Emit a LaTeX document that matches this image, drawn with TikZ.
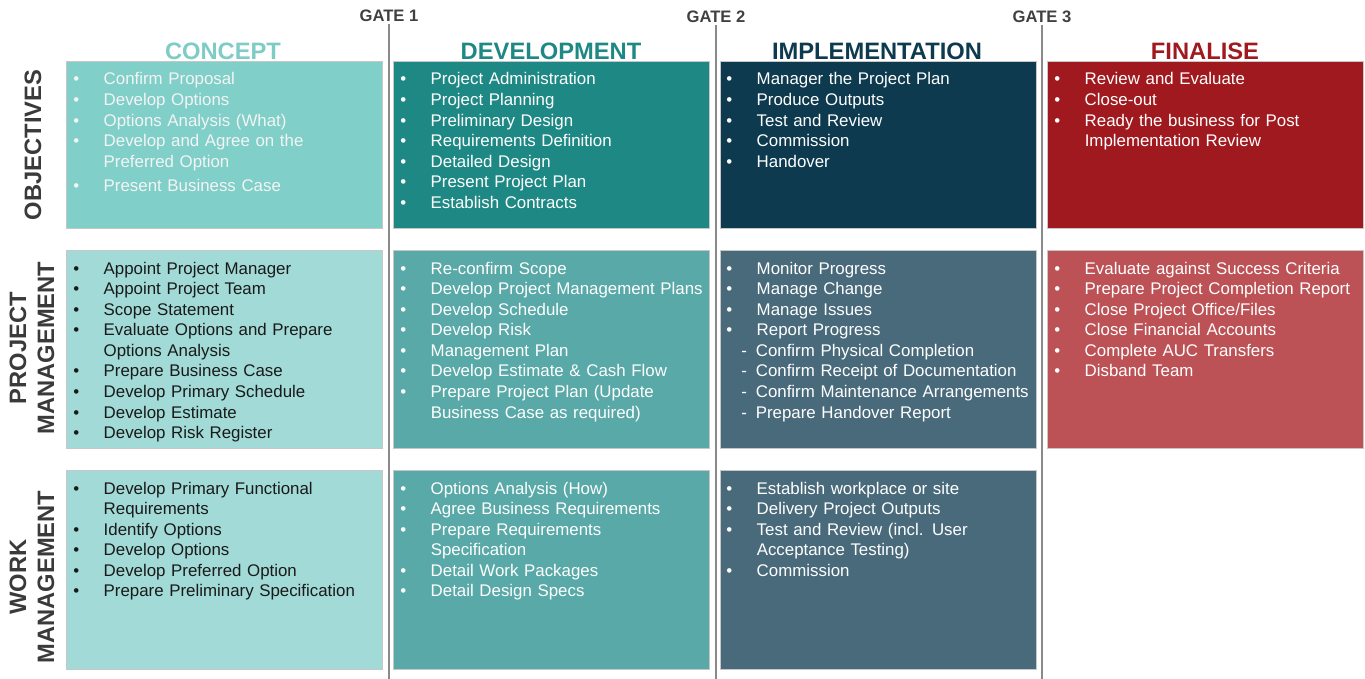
\documentclass[tikz,border=0pt]{standalone}
\usepackage{fontspec}
\setmainfont{Liberation Sans}
\usetikzlibrary{positioning}

\definecolor{conhead}{HTML}{7FCCC6}
\definecolor{conobj}{HTML}{80CFC9}
\definecolor{conrow}{HTML}{A1DAD6}
\definecolor{devobj}{HTML}{1E8984}
\definecolor{devrow}{HTML}{58A9A7}
\definecolor{impobj}{HTML}{0D3A4E}
\definecolor{improw}{HTML}{496A7B}
\definecolor{finobj}{HTML}{A0191F}
\definecolor{finrow}{HTML}{BD5256}
\definecolor{gategray}{HTML}{8A8A8A}
\definecolor{gatetext}{HTML}{404040}
\definecolor{labtext}{HTML}{3A3A3A}
\definecolor{lighttext}{HTML}{F4F4F4}
\definecolor{darktext}{HTML}{1A1A1A}

\tikzset{
  stagebox/.style={rectangle, draw=black!22, line width=0.4pt, inner sep=0pt, anchor=north west, minimum width=6.32cm},
  objrow/.style={stagebox, minimum height=3.34cm},
  pmrow/.style={stagebox, minimum height=3.96cm},
  wmrow/.style={stagebox, minimum height=3.98cm},
  itemlist/.style={anchor=base west, inner sep=0pt, text width=6.3cm, align=left, font=\fontsize{9.6}{11.72}\selectfont},
  stagehead/.style={font=\fontsize{13.5}{16}\selectfont\bfseries},
  gatelabel/.style={font=\fontsize{9.45}{11}\selectfont\bfseries, text=gatetext, inner sep=1pt},
  gateline/.style={draw=gategray, line width=1.1pt},
  rowlabel/.style={font=\fontsize{13.5}{16}\selectfont\bfseries, text=labtext, rotate=90, align=center}
}

\def\bul{\makebox[17.3pt][l]{\textbullet}}
\def\cont{\hspace*{17.3pt}}
\def\subd{\makebox[16.8pt][l]{\hspace{8.5pt}-}}

\begin{document}
\begin{tikzpicture}[x=0.02cm, y=-0.02cm]
  %%%%% START %%%%%
  \useasboundingbox (0,0) rectangle (1365,679);

  % gates
  \node[gatelabel] (g1) at (389,16) {GATE 1};
  \node[gatelabel] (g2) at (716,17) {GATE 2};
  \node[gatelabel] (g3) at (1042,17) {GATE 3};
  \coordinate (g1end) at (389,679);
  \coordinate (g2end) at (716,679);
  \coordinate (g3end) at (1042,679);
  \draw[gateline] (g1.south) -- (g1end);
  \draw[gateline] (g2.south) -- (g2end);
  \draw[gateline] (g3.south) -- (g3end);

  % stage headings
  \node[stagehead, text=conhead] (hCon) at (223,51) {CONCEPT};
  \node[stagehead, text=devobj] (hDev) at (551,51) {DEVELOPMENT};
  \node[stagehead, text=impobj] (hImp) at (877,51) {IMPLEMENTATION};
  \node[stagehead, text=finobj] (hFin) at (1205,51) {FINALISE};

  % row labels
  \node[rowlabel] (lObj) at (33,145) {OBJECTIVES};
  \node[rowlabel] (lPM) at (32,348) {PROJECT\\MANAGEMENT};
  \node[rowlabel] (lWM) at (32,577) {WORK\\MANAGEMENT};

  % objectives
  \node[objrow, fill=conobj] (objCon) at (66,61) {};
  \node[objrow, fill=devobj] (objDev) at (393,61) {};
  \node[objrow, fill=impobj] (objImp) at (720,61) {};
  \node[objrow, fill=finobj] (objFin) at (1047,61) {};

  \node[itemlist, text=lighttext] (objConTxt) at ([shift={(7,24)}]objCon.north west)
    {\bul Confirm Proposal\\ \bul Develop Options\\ \bul Options Analysis (What)\\
     \bul Develop and Agree on the\\ \cont Preferred Option\\[2pt] \bul Present Business Case};
  \node[itemlist, text=white] (objDevTxt) at ([shift={(7,24)}]objDev.north west)
    {\bul Project Administration\\ \bul Project Planning\\ \bul Preliminary Design\\
     \bul Requirements Definition\\ \bul Detailed Design\\ \bul Present Project Plan\\
     \bul Establish Contracts};
  \node[itemlist, text=white] (objImpTxt) at ([shift={(6,24)}]objImp.north west)
    {\bul Manager the Project Plan\\ \bul Produce Outputs\\ \bul Test and Review\\
     \bul Commission\\ \bul Handover};
  \node[itemlist, text=white] (objFinTxt) at ([shift={(7,24)}]objFin.north west)
    {\bul Review and Evaluate\\ \bul Close-out\\ \bul Ready the business for Post\\
     \cont Implementation Review};

  % project management
  \node[pmrow, fill=conrow] (pmCon) at (66,250) {};
  \node[pmrow, fill=devrow] (pmDev) at (393,250) {};
  \node[pmrow, fill=improw] (pmImp) at (720,250) {};
  \node[pmrow, fill=finrow] (pmFin) at (1047,250) {};

  \node[itemlist, text=darktext] (pmConTxt) at ([shift={(7,24)}]pmCon.north west)
    {\bul Appoint Project Manager\\ \bul Appoint Project Team\\ \bul Scope Statement\\
     \bul Evaluate Options and Prepare\\ \cont Options Analysis\\ \bul Prepare Business Case\\
     \bul Develop Primary Schedule\\ \bul Develop Estimate\\ \bul Develop Risk Register};
  \node[itemlist, text=white] (pmDevTxt) at ([shift={(7,24)}]pmDev.north west)
    {\bul Re-confirm Scope\\ \bul Develop Project Management Plans\\ \bul Develop Schedule\\
     \bul Develop Risk\\ \bul Management Plan\\ \bul Develop Estimate \& Cash Flow\\
     \bul Prepare Project Plan (Update\\ \cont Business Case as required)};
  \node[itemlist, text=white] (pmImpTxt) at ([shift={(6,24)}]pmImp.north west)
    {\bul Monitor Progress\\ \bul Manage Change\\ \bul Manage Issues\\ \bul Report Progress\\
     \subd Confirm Physical Completion\\ \subd Confirm Receipt of Documentation\\
     \subd Confirm Maintenance Arrangements\\ \subd Prepare Handover Report};
  \node[itemlist, text=white] (pmFinTxt) at ([shift={(7,24)}]pmFin.north west)
    {\bul Evaluate against Success Criteria\\ \bul Prepare Project Completion Report\\
     \bul Close Project Office/Files\\ \bul Close Financial Accounts\\
     \bul Complete AUC Transfers\\ \bul Disband Team};

  % work management
  \node[wmrow, fill=conrow] (wmCon) at (66,470) {};
  \node[wmrow, fill=devrow] (wmDev) at (393,470) {};
  \node[wmrow, fill=improw] (wmImp) at (720,470) {};

  \node[itemlist, text=darktext] (wmConTxt) at ([shift={(7,24)}]wmCon.north west)
    {\bul Develop Primary Functional\\ \cont Requirements\\ \bul Identify Options\\
     \bul Develop Options\\ \bul Develop Preferred Option\\ \bul Prepare Preliminary Specification};
  \node[itemlist, text=white] (wmDevTxt) at ([shift={(7,24)}]wmDev.north west)
    {\bul Options Analysis (How)\\ \bul Agree Business Requirements\\ \bul Prepare Requirements\\
     \cont Specification\\ \bul Detail Work Packages\\ \bul Detail Design Specs};
  \node[itemlist, text=white] (wmImpTxt) at ([shift={(6,24)}]wmImp.north west)
    {\bul Establish workplace or site\\ \bul Delivery Project Outputs\\
     \bul Test and Review (incl. User\\ \cont Acceptance Testing)\\ \bul Commission};

  %%%%% END %%%%%
\end{tikzpicture}
\end{document}
